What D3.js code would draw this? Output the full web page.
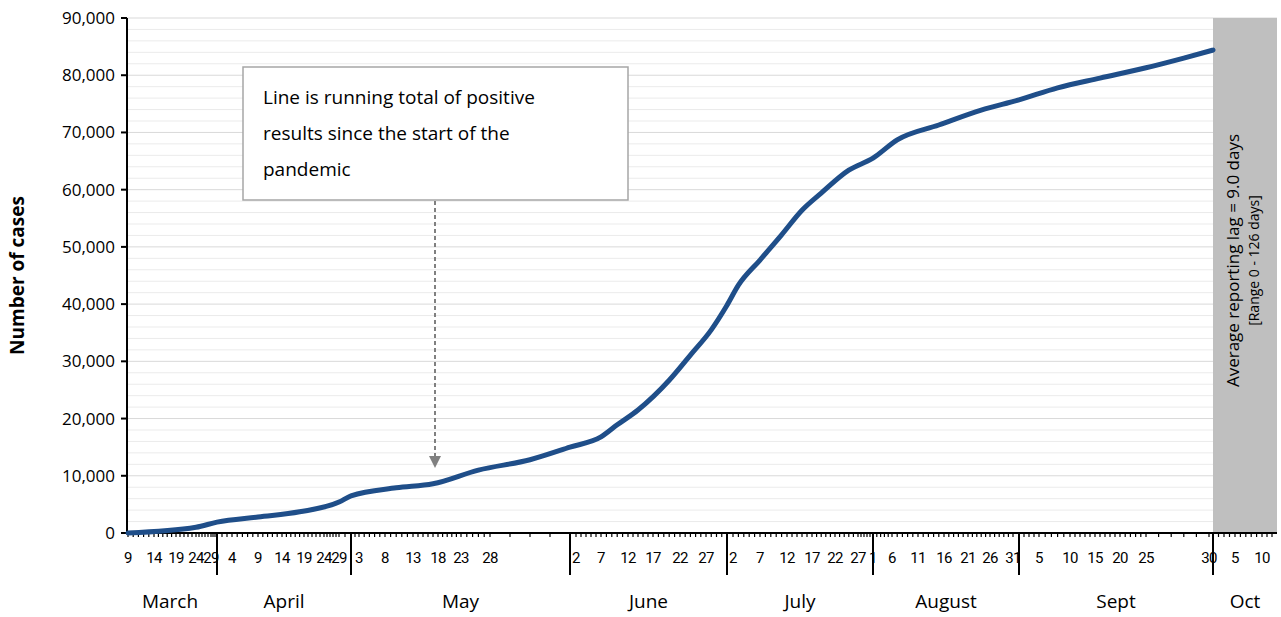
<!DOCTYPE html>
<html><head><meta charset="utf-8">
<script src="https://cdn.jsdelivr.net/npm/d3@7"></script>
<style>
body{margin:0;background:#fff}
text{font-family:"Open Sans",Lato,sans-serif;fill:#000}
text.day{font-family:Roboto,sans-serif;letter-spacing:-0.6px}
</style></head>
<body><div id="chart"></div>
<script>
const svgWidth = 1281
const svgHeight = 617

// running total of positive results
const dates = ["2020-03-09","2020-03-24","2020-04-01","2020-04-09","2020-04-18","2020-04-29","2020-05-01",
  "2020-05-10","2020-05-17","2020-05-26","2020-05-30","2020-06-01","2020-06-07","2020-06-10","2020-06-14",
  "2020-06-20","2020-06-24","2020-06-28","2020-07-01","2020-07-03","2020-07-07","2020-07-11","2020-07-15",
  "2020-07-19","2020-07-25","2020-08-01","2020-08-07","2020-08-15","2020-08-24","2020-09-01","2020-09-08",
  "2020-09-16","2020-09-25","2020-09-28","2020-10-01"]
const cases = [0,1000,1900,2800,3700,5400,6500,7900,8600,11000,12800,15000,16800,18900,21500,
  26700,31100,35500,39800,43300,47700,52100,56400,59400,63400,65500,68700,71300,73900,75700,77800,
  79500,81300,83000,84400]

const months = ["March","April","May","June","July","August","Sept","Oct"]
const monthStarts = ["2020-03-08","2020-04-01","2020-05-01","2020-06-01","2020-07-01","2020-08-01","2020-09-01","2020-10-01","2020-10-13"]
const dayLabels = [[9,14,19,24,29],[4,9,14,19,24,29],[3,8,13,18,23,28],[2,7,12,17,22,27],
  [2,7,12,17,22,27],[1,6,11,16,21,26,31],[5,10,15,20,25,30],[5,10]]
const yTicks = [0,10000,20000,30000,40000,50000,60000,70000,80000,90000]

const parse = d3.timeParse("%Y-%m-%d")
const plotLeft = 127, plotTop = 18, plotBottom = 533, plotRight = 1277

// the original category axis is uneven, so the time scale is piecewise
const axisKnots = [
  ["2020-03-08",123],["2020-03-09",128],["2020-03-14",154],["2020-03-19",176],["2020-03-24",196],["2020-03-29",211],
  ["2020-04-01",217],["2020-04-04",232],["2020-04-09",258],["2020-04-14",282],["2020-04-19",304],["2020-04-24",324],["2020-04-29",339],
  ["2020-05-01",351],["2020-05-03",359],["2020-05-08",385],["2020-05-13",413],["2020-05-18",438],["2020-05-23",461],["2020-05-28",490],
  ["2020-06-01",570],["2020-06-02",576],["2020-06-07",601],["2020-06-12",628],["2020-06-17",653],["2020-06-22",680],["2020-06-27",706],
  ["2020-07-01",727],["2020-07-02",733],["2020-07-07",760],["2020-07-12",787],["2020-07-17",812],["2020-07-22",835],["2020-07-27",858],
  ["2020-08-01",873],["2020-08-06",892],["2020-08-11",918],["2020-08-16",944],["2020-08-21",968],["2020-08-26",990],["2020-08-31",1013],
  ["2020-09-01",1019],["2020-09-05",1039],["2020-09-10",1070],["2020-09-15",1095],["2020-09-20",1120],["2020-09-25",1146],["2020-09-30",1209],
  ["2020-10-01",1213],["2020-10-05",1235],["2020-10-10",1262],["2020-10-13",1277]]

let x = d3.scaleTime()
  .domain(axisKnots.map(d => parse(d[0])))
  .range(axisKnots.map(d => d[1]))
let y = d3.scaleLinear().domain([0, 90000]).range([plotBottom, plotTop])

let svg = d3.select("#chart").append("svg")
  .attr("width", svgWidth).attr("height", svgHeight)

// gridlines every 2,000
svg.append("g").selectAll("line")
  .data(d3.range(2000, 90001, 2000))
  .join("line")
  .attr("x1", plotLeft).attr("x2", plotRight)
  .attr("y1", d => y(d)).attr("y2", d => y(d))
  .attr("stroke", d => d % 10000 === 0 ? "#d9d9d9" : "#ebebeb")
  .attr("stroke-width", 1)

// reporting lag band
let bandStart = x(parse(monthStarts[7]))
svg.append("rect")
  .attr("x", bandStart).attr("y", plotTop)
  .attr("width", plotRight - bandStart).attr("height", plotBottom - plotTop)
  .attr("fill", "#bfbfbf")

let bandX = (bandStart + plotRight) / 2
svg.append("text")
  .attr("transform", `translate(${bandX - 6},${(plotTop + plotBottom) / 2 - 15}) rotate(-90)`)
  .attr("text-anchor", "middle").style("font-size", "17px")
  .text("Average reporting lag = 9.0 days")
svg.append("text")
  .attr("transform", `translate(${bandX + 14},${(plotTop + plotBottom) / 2 - 15}) rotate(-90)`)
  .attr("text-anchor", "middle").style("font-size", "14px")
  .text("[Range 0 - 126 days]")

// y axis
svg.append("line").attr("x1", plotLeft).attr("x2", plotLeft).attr("y1", plotTop).attr("y2", plotBottom)
  .attr("stroke", "#000").attr("stroke-width", 2)
svg.append("g").selectAll("g").data(yTicks).join("g")
  .each(function(d) {
    let g = d3.select(this)
    g.append("line").attr("x1", plotLeft - 6).attr("x2", plotLeft).attr("y1", y(d)).attr("y2", y(d))
      .attr("stroke", "#000").attr("stroke-width", 2)
    g.append("text").attr("x", plotLeft - 12).attr("y", y(d)).attr("dy", "0.35em")
      .attr("text-anchor", "end").style("font-size", "17px").text(d3.format(",")(d))
  })
svg.append("text")
  .attr("transform", `translate(24,${(plotTop + plotBottom) / 2}) rotate(-90)`)
  .attr("text-anchor", "middle").style("font-size", "19px").style("font-weight", "bold")
  .text("Number of cases")

// x axis with daily minor ticks
svg.append("line").attr("x1", plotLeft).attr("x2", plotRight).attr("y1", plotBottom).attr("y2", plotBottom)
  .attr("stroke", "#000").attr("stroke-width", 2)
let days = d3.timeDay.range(parse("2020-03-09"), parse("2020-10-13"))
svg.append("g").selectAll("line").data(days).join("line")
  .attr("x1", d => x(d)).attr("x2", d => x(d)).attr("y1", plotBottom).attr("y2", plotBottom + 4)
  .attr("stroke", "#000").attr("stroke-width", 1.2)
svg.append("g").selectAll("line").data(monthStarts.slice(1, 8)).join("line")
  .attr("x1", d => x(parse(d))).attr("x2", d => x(parse(d)))
  .attr("y1", plotBottom).attr("y2", plotBottom + 42)
  .attr("stroke", "#000").attr("stroke-width", 2)

months.forEach((m, i) => {
  let s = parse(monthStarts[i])
  dayLabels[i].forEach(dd => {
    let dt = new Date(2020, s.getMonth(), dd)
    svg.append("text").attr("class", "day").attr("x", x(dt)).attr("y", plotBottom + 30)
      .attr("text-anchor", "middle").style("font-size", "15px").text(dd)
  })
  let mid = (x(parse(monthStarts[i])) + x(parse(monthStarts[i + 1]))) / 2
  svg.append("text").attr("x", mid).attr("y", plotBottom + 75)
    .attr("text-anchor", "middle").style("font-size", "19px").text(m)
})

// line
let line = d3.line()
  .x((d, i) => x(parse(dates[i])))
  .y(d => y(d))
  .curve(d3.curveMonotoneX)
svg.append("path").datum(cases)
  .attr("d", line).attr("fill", "none")
  .attr("stroke", "#1f4e89").attr("stroke-width", 5).attr("stroke-linecap", "round")

// annotation
svg.append("defs").append("marker").attr("id", "arr")
  .attr("viewBox", "0 0 10 10").attr("refX", 5).attr("refY", 5)
  .attr("markerWidth", 6).attr("markerHeight", 6).attr("orient", "auto")
  .append("path").attr("d", "M0,0L10,5L0,10z").attr("fill", "#808080")
svg.append("line").attr("x1", 435).attr("x2", 435).attr("y1", 201).attr("y2", 462)
  .attr("stroke", "#808080").attr("stroke-width", 2).attr("stroke-dasharray", "4,3")
  .attr("marker-end", "url(#arr)")
svg.append("rect").attr("x", 243).attr("y", 67).attr("width", 385).attr("height", 133)
  .attr("fill", "#fff").attr("stroke", "#a6a6a6").attr("stroke-width", 1.5)
let note = ["Line is running total of positive", "results since the start of the", "pandemic"]
note.forEach((t, i) => {
  svg.append("text").attr("x", 263).attr("y", 104 + i * 36)
    .style("font-size", "19px").text(t)
})
</script></body></html>
